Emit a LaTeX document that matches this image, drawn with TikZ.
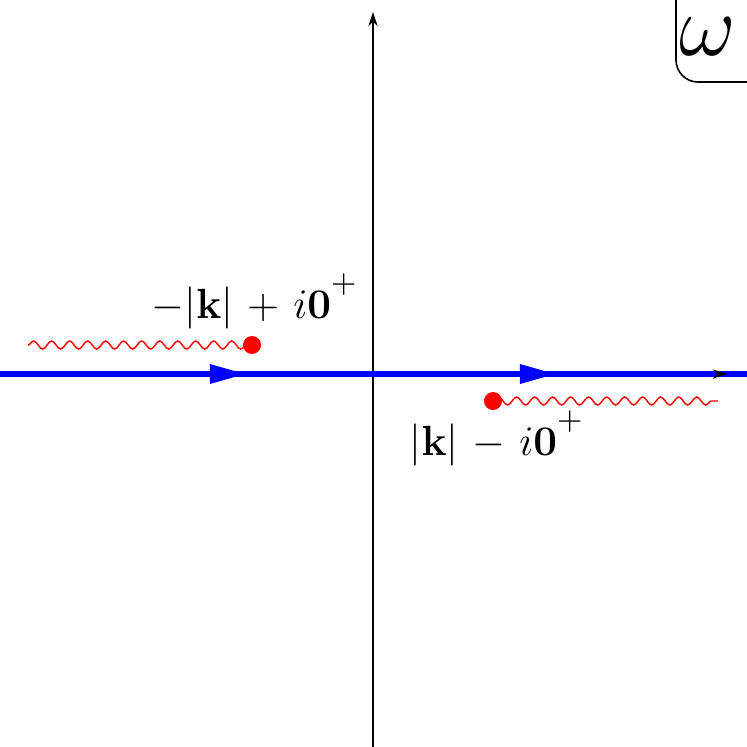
\documentclass[tikz,border=0pt]{standalone}
\usetikzlibrary{arrows.meta,decorations.pathmorphing}
\newcommand{\supplus}{^{\raisebox{3pt}{$\scriptstyle+$}}}
\begin{document}
\begin{tikzpicture}[x=0.01cm,y=-0.01cm,
  axisv/.style={line width=0.45pt,-{Stealth[length=4pt,width=2.6pt]}},
  contour/.style={blue,line width=1.75pt},
  cut/.style={red,line width=0.4pt,decorate,decoration={snake,segment length=0.18cm,amplitude=0.04cm}},
  pole/.style={circle,fill=red,inner sep=0pt,minimum size=0.18cm},
  lbl/.style={font=\fontsize{12.5}{15}\selectfont,inner sep=1pt}]
\useasboundingbox (0,0) rectangle (747,747);
% axes
\coordinate (vb) at (373,747);
\coordinate (vt) at (373,12);
\coordinate (hl) at (0,374);
\coordinate (hr) at (727,374);
\coordinate (hs) at (726,374);
\draw[axisv] (vb) -- (vt);
\draw[line width=0.45pt] (hl) -- (hr);
% contour
\coordinate (cl) at (0,374);
\coordinate (cr) at (747,374);
\draw[contour] (cl) -- (cr);
\draw[axisv] (hs) -- (hr);
\fill[blue] (210,364) -- (245,374) -- (210,384) -- cycle;
\fill[blue] (520,364) -- (555,374) -- (520,384) -- cycle;
% poles and cuts
\coordinate (p1c) at (252,345);
\coordinate (c1) at (28,345);
\draw[cut] (c1) -- (p1c);
\node[pole] (p1) at (p1c) {};
\coordinate (p2c) at (493,401);
\coordinate (c2) at (718,401);
\draw[cut] (p2c) -- (c2);
\node[pole] (p2) at (p2c) {};
% labels
\node[lbl,anchor=base] (l1) at (255,318) {$-|\mathbf{k}|\mkern2mu+\mkern2mu i\mathbf{0}\supplus$};
\node[lbl,anchor=base] (l2) at (497,455) {$|\mathbf{k}|\mkern2mu-\mkern2mu i\mathbf{0}\supplus$};
% omega box
\draw[line width=0.45pt,rounded corners=0.22cm] (676,0) -- (676,82) -- (747,82);
\node[font=\fontsize{24}{28}\selectfont,inner sep=0pt] (om) at (708,37) {$\omega$};
\end{tikzpicture}
\end{document}
